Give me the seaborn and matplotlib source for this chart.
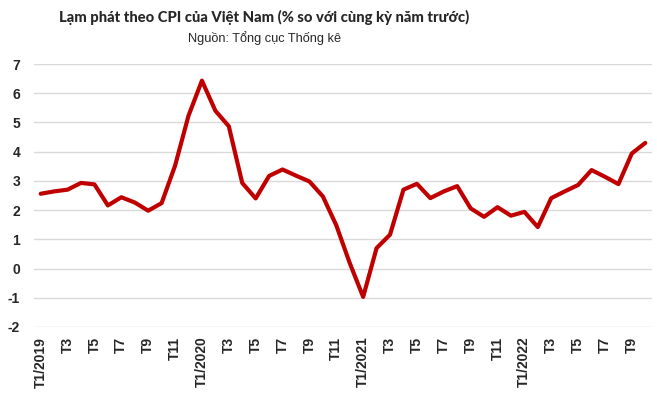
import matplotlib
matplotlib.use("Agg")
import matplotlib.pyplot as plt
import seaborn as sns
import pandas as pd
import numpy as np

months = [f"T{m}/{y}" for y in (2019, 2020, 2021, 2022) for m in range(1, 13)][:46]
cpi_2019 = [2.56, 2.64, 2.70, 2.93, 2.88, 2.16, 2.44, 2.26, 1.98, 2.24, 3.52, 5.23]
cpi_2020 = [6.43, 5.40, 4.87, 2.93, 2.40, 3.17, 3.39, 3.18, 2.98, 2.47, 1.48, 0.19]
cpi_2021 = [-0.97, 0.70, 1.16, 2.70, 2.90, 2.41, 2.64, 2.82, 2.06, 1.77, 2.10, 1.81]
cpi_2022 = [1.94, 1.42, 2.41, 2.64, 2.86, 3.37, 3.14, 2.89, 3.94, 4.30]
values = cpi_2019 + cpi_2020 + cpi_2021 + cpi_2022

tick_labels = []
for m in months:
    mm, yy = m[1:].split("/")
    tick_labels.append(m if mm == "1" else f"T{mm}")

df = pd.DataFrame({"idx": np.arange(len(values)), "cpi": values})

sns.set_theme(style="white")
plt.rcParams["font.family"] = ["Liberation Sans", "DejaVu Sans"]

fig = plt.figure(figsize=(6.57, 3.99), dpi=100)
ax = fig.add_axes([34/657, (399-327)/399, (652-34)/657, (327-64)/399])
sns.lineplot(data=df, x="idx", y="cpi", ax=ax, color="#C00000", linewidth=3.0)

ax.set_xlim(-0.5, len(values) - 0.5)
ax.set_ylim(-2, 7)
ax.set_yticks(range(-2, 8))
ax.set_yticklabels([str(v) for v in range(-2, 8)], fontweight="bold", fontsize=10)
ax.set_xticks(df["idx"][::2])
ax.set_xticklabels(tick_labels[::2], rotation=90, fontweight="bold", fontsize=10)
ax.tick_params(axis="x", length=0, pad=7)
ax.tick_params(axis="y", length=0, pad=10)
ax.yaxis.grid(True, color="#d9d9d9", linewidth=1)
ax.xaxis.grid(False)
for s in ax.spines.values():
    s.set_visible(False)
ax.set_xlabel("")
ax.set_ylabel("")

fig.text(264/657, 1 - 17/399, "Lạm phát theo CPI của Việt Nam (% so với cùng kỳ năm trước)",
         ha="center", va="center", fontsize=10.6, fontweight="black",
         family=["Lato", "Liberation Sans", "DejaVu Sans"])
fig.text(265/657, 1 - 38/399, "Nguồn: Tổng cục Thống kê",
         ha="center", va="center", fontsize=9.2,
         family=["Liberation Sans", "DejaVu Sans"])

fig.savefig("out.png", dpi=100)
